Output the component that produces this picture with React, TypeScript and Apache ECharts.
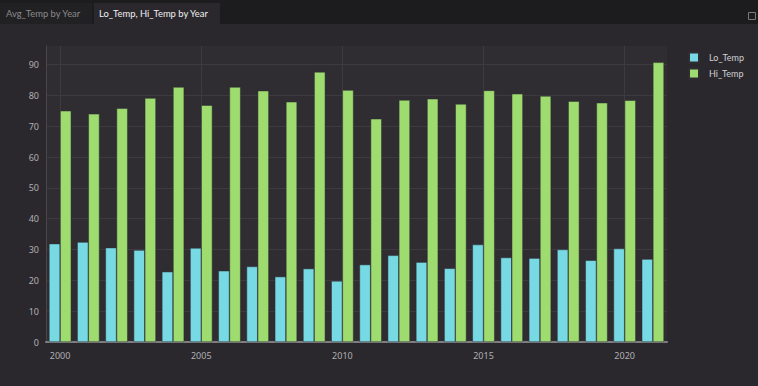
import React, { useEffect, useRef } from "react";
import * as echarts from "echarts";

const years = [2000, 2001, 2002, 2003, 2004, 2005, 2006, 2007, 2008, 2009, 2010, 2011, 2012, 2013, 2014, 2015, 2016, 2017, 2018, 2019, 2020, 2021];
const loTemp = [31.9, 32.4, 30.6, 29.8, 22.8, 30.5, 23.1, 24.5, 21.2, 23.8, 19.8, 25.1, 28.1, 25.9, 23.9, 31.6, 27.4, 27.2, 30.0, 26.5, 30.3, 26.9];
const hiTemp = [75.0, 74.0, 75.8, 79.1, 82.7, 76.8, 82.7, 81.5, 77.9, 87.6, 81.7, 72.4, 78.5, 78.9, 77.2, 81.6, 80.5, 79.8, 78.1, 77.6, 78.4, 90.7];
const seriesNames = ["Lo_Temp", "Hi_Temp"];
const tabLabels = ["Avg_Temp by Year", "Lo_Temp, Hi_Temp by Year"];

const FONT = "'Noto Sans', sans-serif";
const UI_FONT = "Lato, sans-serif";

export default function App() {
  const ref = useRef<HTMLDivElement>(null);
  useEffect(() => {
    if (!ref.current) return;
    const chart = echarts.init(ref.current, null, { renderer: "svg" });
    chart.setOption({
      animation: false,
      backgroundColor: "#2a282d",
      textStyle: { fontFamily: FONT },
      graphic: [
        { type: "rect", left: 0, top: 0, shape: { width: 758, height: 24 }, style: { fill: "#1c1b1e" }, silent: true },
        { type: "rect", left: 0, top: 3, shape: { width: 92, height: 21 }, style: { fill: "#212023" }, silent: true },
        { type: "rect", left: 94, top: 3, shape: { width: 126, height: 21 }, style: { fill: "#2a282d" }, silent: true },
        { type: "text", left: 6, top: 8.5, style: { text: tabLabels[0], fill: "#8c8b8e", font: `9.4px ${UI_FONT}` }, silent: true },
        { type: "text", left: 99, top: 8.5, style: { text: tabLabels[1], fill: "#f0f0f0", font: `9.4px ${UI_FONT}` }, silent: true },
        { type: "rect", left: 746, top: 10, shape: { width: 7, height: 7 }, style: { fill: "none", stroke: "#7a797c", lineWidth: 1 }, silent: true },
      ],
      legend: {
        orient: "vertical",
        left: 683,
        top: 46.5,
        itemWidth: 10,
        itemHeight: 10,
        itemGap: 4,
        icon: "rect",
        data: seriesNames,
        textStyle: { color: "#d0d0d0", fontSize: 9, lineHeight: 10, fontFamily: UI_FONT, padding: [0, 0, 0, 5] },
      },
      grid: {
        left: 46,
        right: 91,
        top: 46,
        bottom: 44,
        show: true,
        backgroundColor: "#2f2d32",
        borderWidth: 0,
      },
      xAxis: {
        type: "value",
        min: 1999.5,
        max: 2021.5,
        axisLine: { show: true, onZero: true, lineStyle: { color: "#7e7d81", width: 2 } },
        axisTick: { show: false },
        axisLabel: {
          color: "#b0afb2",
          fontSize: 9,
          margin: 9,
          showMinLabel: false,
          showMaxLabel: false,
          formatter: (v: number) => (Number.isInteger(v) && v % 5 === 0 ? String(v) : ""),
        },
        splitLine: { show: true, showMinLine: false, showMaxLine: false, lineStyle: { color: "#3d3b40", width: 1 } },
      },
      yAxis: {
        type: "value",
        min: 0,
        max: 96,
        interval: 10,
        axisLine: { show: true, lineStyle: { color: "#48464b", width: 1 } },
        axisTick: { show: false },
        axisLabel: { color: "#b0afb2", fontSize: 9, margin: 7, showMaxLabel: false },
        splitLine: { show: true, showMinLine: false, showMaxLine: false, lineStyle: { color: "#3d3b40", width: 1 } },
      },
      series: [
        {
          name: seriesNames[0],
          type: "bar",
          data: years.map((y, i) => [y, loTemp[i]]),
          barGap: "0%",
          barCategoryGap: "21%",
          itemStyle: { color: "#76d9e4", borderColor: "#2f2d32", borderWidth: 0.5 },
        },
        {
          name: seriesNames[1],
          type: "bar",
          data: years.map((y, i) => [y, hiTemp[i]]),
          barGap: "0%",
          barCategoryGap: "21%",
          itemStyle: { color: "#9edc6f", borderColor: "#2f2d32", borderWidth: 0.5 },
        },
      ],
    });
    return () => chart.dispose();
  }, []);
  return (
    <div style={{ position: "fixed", left: 0, top: 0, width: 758, height: 386 }}>
      <div ref={ref} style={{ width: 758, height: 386 }} />
    </div>
  );
}
